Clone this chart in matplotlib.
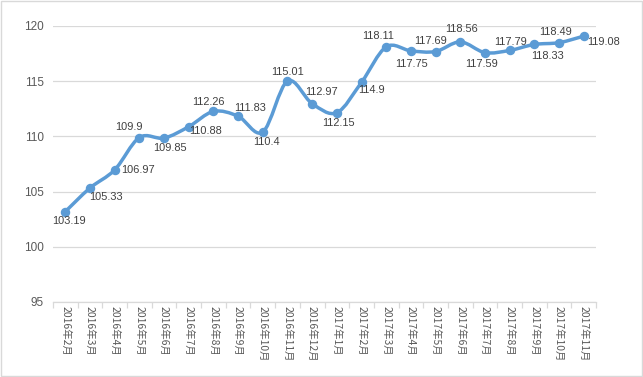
import numpy as np
import matplotlib.pyplot as plt
from matplotlib.path import Path
from matplotlib.patches import PathPatch, Rectangle

months = ['2016年2月', '2016年3月', '2016年4月', '2016年5月', '2016年6月', '2016年7月',
          '2016年8月', '2016年9月', '2016年10月', '2016年11月', '2016年12月',
          '2017年1月', '2017年2月', '2017年3月', '2017年4月', '2017年5月', '2017年6月',
          '2017年7月', '2017年8月', '2017年9月', '2017年10月', '2017年11月']
values = [103.19, 105.33, 106.97, 109.9, 109.85, 110.88, 112.26, 111.83, 110.4, 115.01,
          112.97, 112.15, 114.9, 118.11, 117.75, 117.69, 118.56, 117.59, 117.79, 118.33,
          118.49, 119.08]

# label offsets in pixels (dx right, dy down)
label_off = [(4, 9), (16, 9), (23, 0), (-10, -11), (6, 10), (17, 4), (-5, -9), (12, -8),
             (4, 10), (0, -9), (9, -12), (2, 10), (10, 8), (-8, -11), (1, 13), (-5, -11),
             (1, -13), (-3, 11), (1, -8), (13, 12), (-3, -11), (20, 6)]

line_color = '#5B9BD5'
grid_color = '#D9D9D9'
text_color = '#595959'

plt.rcParams['font.family'] = ['Liberation Sans', 'Noto Sans CJK SC']

fig = plt.figure(figsize=(6.43, 3.77), dpi=100)
ax = fig.add_axes([53 / 643, 1 - 302 / 377, 543 / 643, 276 / 377])

x = np.arange(len(values))
y = np.array(values)

# smooth line (Catmull-Rom style bezier through the data points)
pts = np.column_stack([x, y])
verts = [pts[0]]
codes = [Path.MOVETO]
n = len(pts)
for i in range(n - 1):
    p0 = pts[i - 1] if i > 0 else pts[i]
    p1 = pts[i]
    p2 = pts[i + 1]
    p3 = pts[i + 2] if i + 2 < n else pts[i + 1]
    c1 = p1 + (p2 - p0) / 6.0
    c2 = p2 - (p3 - p1) / 6.0
    verts += [c1, c2, p2]
    codes += [Path.CURVE4] * 3
ax.add_patch(PathPatch(Path(verts, codes), facecolor='none', edgecolor=line_color,
                       lw=2.5, capstyle='round', joinstyle='round', zorder=3))
ax.plot(x, y, 'o', color=line_color, markersize=5.8, zorder=4)

for xi, yi, (dx, dy) in zip(x, y, label_off):
    ax.annotate('{:g}'.format(yi), (xi, yi), xytext=(dx * 0.72, -dy * 0.72),
                textcoords='offset points', ha='center', va='center',
                fontsize=7.9, color='#404040', zorder=5)

ax.set_xlim(-0.5, len(values) - 0.5)
ax.set_ylim(95, 120)
ax.set_yticks(np.arange(95, 121, 5))
ax.yaxis.grid(True, color=grid_color, lw=0.9)
ax.set_axisbelow(True)

ax.set_xticks(np.arange(-0.5, len(values), 1.0))
ax.set_xticklabels([])
ax.set_xticks(x, minor=True)
ax.set_xticklabels(months, minor=True, rotation=270, va='top', ha='center',
                   family=['Noto Sans CJK SC'], fontsize=7.5, color=text_color)
ax.tick_params(axis='x', which='major', length=4, color=grid_color, width=0.9)
ax.tick_params(axis='x', which='minor', length=0, pad=3)
ax.tick_params(axis='y', length=0, labelsize=8.5, labelcolor=text_color, pad=6.5)

for s in ['top', 'right', 'left']:
    ax.spines[s].set_visible(False)
ax.spines['bottom'].set_color(grid_color)
ax.spines['bottom'].set_linewidth(0.9)

fig.patches.append(Rectangle((0.001, 0.002), 0.997, 0.995, transform=fig.transFigure,
                             fill=False, edgecolor=grid_color, lw=1))

fig.savefig('out.png', dpi=100)
